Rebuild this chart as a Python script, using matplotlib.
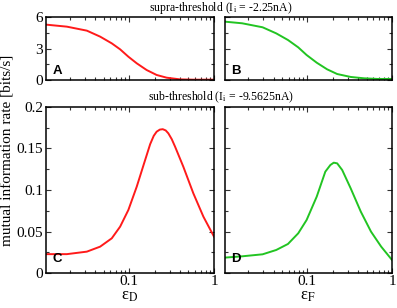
import matplotlib

matplotlib.use("Agg")
import matplotlib.pyplot as plt  # noqa: E402
from matplotlib.ticker import LogLocator, MultipleLocator, NullFormatter  # noqa: E402

plt.rcParams["font.family"] = ["Liberation Serif", "DejaVu Serif"]
plt.rcParams["mathtext.fontset"] = "stix"

# ---- data (x = epsilon, log scale) ----
eps_a = [0.0106, 0.0185, 0.0318, 0.0456, 0.0625, 0.0784, 0.098, 0.123,
         0.161, 0.211, 0.277, 0.398, 0.571, 1.0]
rate_a = [5.27, 5.08, 4.70, 4.13, 3.49, 2.92, 2.22, 1.59,
          0.95, 0.48, 0.22, 0.06, 0.03, 0.03]

eps_b = [0.0105, 0.017, 0.0296, 0.0429, 0.059, 0.078, 0.098, 0.129,
         0.171, 0.225, 0.325, 0.47, 0.68, 1.0]
rate_b = [5.56, 5.40, 5.02, 4.44, 3.81, 3.11, 2.38, 1.65,
          1.02, 0.57, 0.29, 0.16, 0.10, 0.10]

eps_c = [0.0106, 0.0185, 0.0318, 0.0456, 0.0625, 0.0784, 0.098, 0.123,
         0.148, 0.177, 0.195, 0.211, 0.23, 0.249, 0.27, 0.29, 0.318, 0.348,
         0.435, 0.571, 0.75, 1.0]
rate_c = [0.023, 0.023, 0.026, 0.032, 0.042, 0.056, 0.076, 0.104,
          0.130, 0.155, 0.165, 0.170, 0.1725, 0.173, 0.1715, 0.168, 0.161,
          0.152, 0.128, 0.096, 0.068, 0.044]

eps_d = [0.0105, 0.017, 0.0296, 0.0429, 0.059, 0.078, 0.098, 0.129,
         0.163, 0.187, 0.205, 0.225, 0.258, 0.325, 0.428, 0.565, 0.745, 1.0]
rate_d = [0.0188, 0.0204, 0.0228, 0.028, 0.0352, 0.048, 0.064, 0.092,
          0.122, 0.130, 0.1328, 0.132, 0.124, 0.102, 0.074, 0.050, 0.032, 0.016]

panel_labels = ["A", "B", "C", "D"]
top_yticks = [0, 3, 6]
bottom_yticks = [0, 0.05, 0.1, 0.15, 0.2]
bottom_ylabels = ["0", "0.05", "0.1", "0.15", "0.2"]
RED = "#ff1a1a"
GREEN = "#22c422"

W, H = 397, 308
fig = plt.figure(figsize=(W / 100, H / 100), dpi=100)


def _axes(x0, y0, x1, y1):
    # pixel box (top-left origin) -> figure fraction
    return fig.add_axes([x0 / W, 1 - y1 / H, (x1 - x0) / W, (y1 - y0) / H])


ax_a = _axes(46, 17, 214, 80)
ax_b = _axes(224.5, 17, 392, 80)
ax_c = _axes(46, 106.7, 214, 273.3)
ax_d = _axes(224.5, 106.7, 392, 273.3)

series = [(ax_a, eps_a, rate_a, RED), (ax_b, eps_b, rate_b, GREEN),
          (ax_c, eps_c, rate_c, RED), (ax_d, eps_d, rate_d, GREEN)]

for i, (ax, x, y, c) in enumerate(series):
    ax.plot(x, y, color=c, lw=1.4)
    ax.set_xscale("log")
    ax.set_xlim(0.0105, 1)
    ax.xaxis.set_minor_locator(LogLocator(base=10, subs=range(2, 10)))
    ax.xaxis.set_minor_formatter(NullFormatter())
    ax.set_xticks([0.1, 1])
    ax.set_xticklabels(["0.1", "1"])
    if i < 2:
        ax.set_ylim(0, 6)
        ax.set_yticks(top_yticks)
        ax.set_yticklabels([str(t) for t in top_yticks])
        ax.yaxis.set_minor_locator(MultipleLocator(1.5))
        ax.set_xticklabels([])
    else:
        ax.set_ylim(0, 0.2)
        ax.set_yticks(bottom_yticks)
        ax.set_yticklabels(bottom_ylabels)
        ax.yaxis.set_minor_locator(MultipleLocator(0.025))
    if i % 2 == 1:
        ax.set_yticklabels([])
    ax.tick_params(which="both", direction="in", top=True, right=True,
                   labelsize=11, pad=2, width=0.8, color="#333333")
    ax.tick_params(which="major", length=3.6)
    ax.tick_params(which="minor", length=2)
    ax.tick_params(axis="x", pad=1)
    for s in ax.spines.values():
        s.set_linewidth(1.1)
    ax.text(0.04, 0.05, panel_labels[i], transform=ax.transAxes,
            fontsize=9.5, fontweight="bold", family="Liberation Sans",
            ha="left", va="bottom")

fig.text(221 / W, 1 - 8 / H, r"supra-threshold (I$_{\rm i}$ = -2.25nA)",
         ha="center", va="center", fontsize=8.5)
fig.text(221 / W, 1 - 97 / H, r"sub-threshold (I$_{\rm i}$ = -9.5625nA)",
         ha="center", va="center", fontsize=8.5)
fig.text(8 / W, 1 - 150 / H, "mutual information rate [bits/s]",
         rotation=90, ha="center", va="center", fontsize=11)
ax_c.set_xlabel(r"ε$_{\rm D}$", fontsize=12, labelpad=0)
ax_d.set_xlabel(r"ε$_{\rm F}$", fontsize=12, labelpad=0)

fig.savefig("out.png", dpi=100)
